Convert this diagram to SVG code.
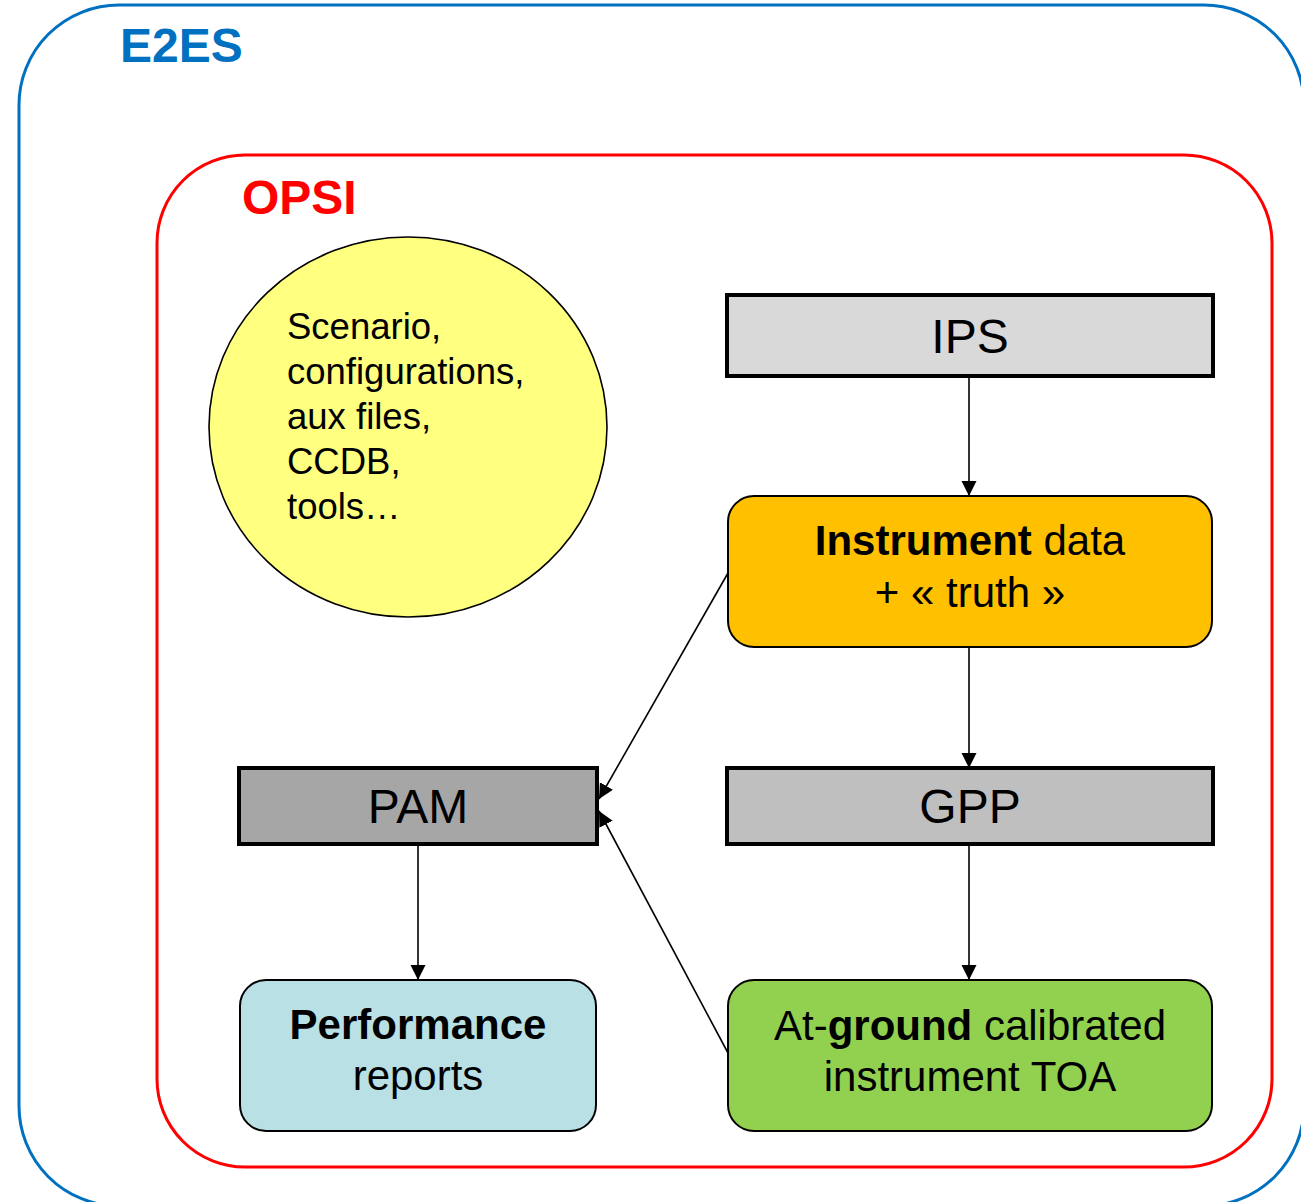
<svg xmlns="http://www.w3.org/2000/svg" width="1301" height="1202" viewBox="0 0 1301 1202">
<style>
text{font-family:"Liberation Sans",Arial,sans-serif;fill:#000}
.box{stroke:#000;stroke-width:4}
.rbox{stroke:#000;stroke-width:2}
.big{font-size:48px;text-anchor:middle}
.mid{font-size:42px;text-anchor:middle}
.b{font-weight:bold}
.conn{stroke:#000;stroke-width:1.6;fill:none;marker-end:url(#ah)}
</style>
<defs>
<marker id="ah" markerUnits="userSpaceOnUse" markerWidth="16" markerHeight="16" refX="15" refY="7.5" orient="auto" viewBox="0 0 16 16">
<path d="M0,0 L15,7.5 L0,15 z" fill="#000"/>
</marker>
</defs>
<g id="e2es">
<rect x="19" y="5" width="1285" height="1201" rx="100" ry="100" fill="#fff" stroke="#0070c0" stroke-width="3"/>
<text x="120" y="62" font-size="48" font-weight="bold" style="fill:#0070c0">E2ES</text>
</g>
<g id="opsi">
<rect x="157" y="155" width="1115" height="1012" rx="88" ry="88" fill="#fff" stroke="#ff0000" stroke-width="3"/>
<text x="242" y="214" font-size="48" font-weight="bold" style="fill:#ff0000">OPSI</text>
</g>
<g id="connectors">
<line class="conn" x1="969" y1="376" x2="969" y2="496"/>
<line class="conn" x1="969" y1="647" x2="969" y2="768"/>
<line class="conn" x1="969" y1="844" x2="969" y2="980"/>
<line class="conn" x1="418" y1="844" x2="418" y2="980"/>
<line class="conn" x1="728" y1="573" x2="599" y2="799"/>
<line class="conn" x1="728" y1="1053" x2="599" y2="811"/>
</g>
<g id="inputs">
<ellipse cx="408" cy="427" rx="199" ry="190" fill="#ffff80" stroke="#000" stroke-width="1.6"/>
<text font-size="36.5">
<tspan x="287" y="339">Scenario,</tspan>
<tspan x="287" y="384">configurations,</tspan>
<tspan x="287" y="429">aux files,</tspan>
<tspan x="287" y="474">CCDB,</tspan>
<tspan x="287" y="519">tools…</tspan>
</text>
</g>
<g id="ips">
<rect class="box" x="727" y="295" width="486" height="81" fill="#d9d9d9"/>
<text class="big" x="970" y="353">IPS</text>
</g>
<g id="instrument">
<rect class="rbox" x="728" y="496" width="484" height="151" rx="26" fill="#ffc000"/>
<text class="mid" x="970" y="555"><tspan class="b">Instrument</tspan> data</text>
<text class="mid" x="970" y="607">+ « truth »</text>
</g>
<g id="gpp">
<rect class="box" x="727" y="768" width="486" height="76" fill="#bfbfbf"/>
<text class="big" x="970" y="823">GPP</text>
</g>
<g id="pam">
<rect class="box" x="239" y="768" width="358" height="76" fill="#a6a6a6"/>
<text class="big" x="418" y="823">PAM</text>
</g>
<g id="performance">
<rect class="rbox" x="240" y="980" width="356" height="151" rx="26" fill="#b9e0e4"/>
<text class="mid b" x="418" y="1039">Performance</text>
<text class="mid" x="418" y="1090">reports</text>
</g>
<g id="toa">
<rect class="rbox" x="728" y="980" width="484" height="151" rx="26" fill="#92d050"/>
<text class="mid" x="970" y="1040">At-<tspan class="b">ground</tspan> calibrated</text>
<text class="mid" x="970" y="1091">instrument TOA</text>
</g>
</svg>
